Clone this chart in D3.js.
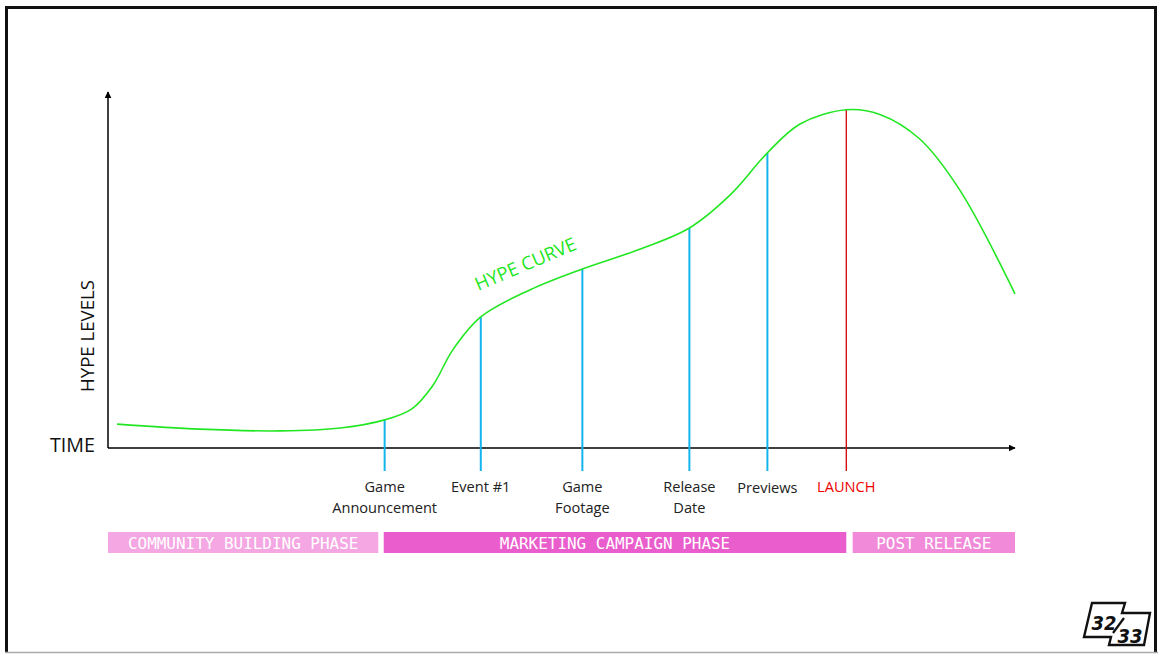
<!DOCTYPE html>
<html>
<head>
<meta charset="utf-8">
<script src="https://cdn.jsdelivr.net/npm/d3@7"></script>
<style>
  html, body { margin: 0; padding: 0; background: #fff; }
  svg { display: block; }
</style>
</head>
<body>
<svg id="chart" width="1158" height="654"></svg>
<script>
// Hype curve: time (0-100) and hype level (0-100)
const curveTimes  = [1.0, 10.1, 19.0, 25.6, 30.5, 33.5, 35.8, 38.0, 41.1, 46.5, 52.3, 58.7, 64.1, 68.6, 72.7, 76.3, 81.4, 85.1, 89.5, 93.9, 100];
const curveLevels = [6.7, 5.3, 4.8, 5.6, 7.9, 11.0, 17.5, 27.5, 36.8, 44.4, 50.3, 55.9, 61.8, 71.1, 82.9, 91.0, 95.0, 93.7, 86.8, 72.5, 43.3];

// Milestones along the time axis
const eventLabels = [["Game", "Announcement"], ["Event #1"], ["Game", "Footage"], ["Release", "Date"], ["Previews"], ["LAUNCH"]];
const eventTimes  = [30.5, 41.1, 52.3, 64.1, 72.7, 81.4];
const eventKinds  = ["milestone", "milestone", "milestone", "milestone", "milestone", "launch"];

// Campaign phases
const phaseNames  = ["COMMUNITY BUILDING PHASE", "MARKETING CAMPAIGN PHASE", "POST RELEASE"];
const phaseStarts = [0, 30.4, 82.1];
const phaseEnds   = [29.8, 81.4, 100];
const phaseColors = ["#f4a7e3", "#ea5dcd", "#f08ad9"];

const svg = d3.select("#chart");

// Outer frame: dark on three sides, light rule along the bottom
svg.append("path")
  .attr("d", "M6.5,652 L6.5,7.5 L1155.5,7.5 L1155.5,652")
  .attr("fill", "none").attr("stroke", "#111").attr("stroke-width", 3);
svg.append("line").attr("x1", 5).attr("x2", 1158).attr("y1", 652.5).attr("y2", 652.5)
  .attr("stroke", "#aaa").attr("stroke-width", 1.5);

const x = d3.scaleLinear().domain([0, 100]).range([108, 1015]);
const y = d3.scaleLinear().domain([0, 100]).range([448, 92]);

// Arrowheads
const defs = svg.append("defs");
defs.append("marker")
  .attr("id", "arrow").attr("viewBox", "0 0 10 10")
  .attr("refX", 9).attr("refY", 5)
  .attr("markerWidth", 7).attr("markerHeight", 7)
  .attr("markerUnits", "userSpaceOnUse")
  .attr("orient", "auto")
  .append("path").attr("d", "M0,0 L10,5 L0,10 Z").attr("fill", "#000");

// Axes
svg.append("line")
  .attr("x1", x(0)).attr("y1", y(0)).attr("x2", x(0)).attr("y2", y(100))
  .attr("stroke", "#000").attr("stroke-width", 1.5).attr("marker-end", "url(#arrow)");
svg.append("line")
  .attr("x1", x(0)).attr("y1", y(0)).attr("x2", x(100)).attr("y2", y(0))
  .attr("stroke", "#000").attr("stroke-width", 1.5).attr("marker-end", "url(#arrow)");

const labelFont = "'Open Sans', 'Liberation Sans', sans-serif";

svg.append("text")
  .attr("x", 95).attr("y", 452)
  .attr("text-anchor", "end")
  .attr("font-family", labelFont).attr("font-size", 19.5).attr("fill", "#111")
  .attr("textLength", 45).attr("lengthAdjust", "spacingAndGlyphs")
  .text("TIME");

svg.append("text")
  .attr("transform", `translate(94, 336) rotate(-90)`)
  .attr("text-anchor", "middle")
  .attr("font-family", labelFont).attr("font-size", 19).attr("fill", "#111")
  .attr("textLength", 112).attr("lengthAdjust", "spacingAndGlyphs")
  .text("HYPE LEVELS");

// Hype curve
const curvePts = curveTimes.map((t, i) => [t, curveLevels[i]]);
const line = d3.line().x(d => x(d[0])).y(d => y(d[1])).curve(d3.curveCatmullRom.alpha(0.5));

// Milestone lines, from the curve down below the axis
const levelAt = t => curveLevels[curveTimes.indexOf(t)];
eventTimes.forEach((t, i) => {
  const launch = eventKinds[i] === "launch";
  svg.append("line")
    .attr("x1", x(t)).attr("x2", x(t))
    .attr("y1", y(levelAt(t))).attr("y2", y(0) + 23)
    .attr("stroke", launch ? "#d40000" : "#14b4ee")
    .attr("stroke-width", launch ? 1.3 : 2);
  const lines = eventLabels[i];
  const tx = svg.append("text")
    .attr("text-anchor", "middle")
    .attr("font-family", labelFont).attr("font-size", 14.6)
    .attr("fill", launch ? "#ee0000" : "#222");
  lines.forEach((s, j) => {
    tx.append("tspan")
      .attr("x", x(t))
      .attr("y", y(0) + 44 + j * 21 + (s === "Previews" ? 1 : 0))
      .text(s);
  });
});

svg.append("path")
  .datum(curvePts)
  .attr("d", line)
  .attr("fill", "none")
  .attr("stroke", "#22e622")
  .attr("stroke-width", 1.6);

svg.append("text")
  .attr("transform", "translate(528, 270) rotate(-23)")
  .attr("text-anchor", "middle")
  .attr("font-family", labelFont).attr("font-size", 18.5).attr("fill", "#22e622")
  .text("HYPE CURVE");

// Phase bands
phaseNames.forEach((name, i) => {
  svg.append("rect")
    .attr("x", x(phaseStarts[i])).attr("y", 532)
    .attr("width", x(phaseEnds[i]) - x(phaseStarts[i])).attr("height", 21)
    .attr("fill", phaseColors[i]);
  svg.append("text")
    .attr("x", (x(phaseStarts[i]) + x(phaseEnds[i])) / 2).attr("y", 548.5)
    .attr("text-anchor", "middle")
    .attr("font-family", "'DejaVu Sans Mono', 'Liberation Mono', monospace")
    .attr("font-size", 15.5).attr("fill", "#fff")
    .attr("textLength", name.length * 9.6).attr("lengthAdjust", "spacingAndGlyphs")
    .text(name);
});

// Badge in the corner
const badge = svg.append("g");
badge.append("path")
  .attr("d", "M1092,603 L1125,603 L1122,613 L1150,613 L1144,645 L1109,645 L1111,637 L1084,637 Z")
  .attr("fill", "#fff").attr("stroke", "#111").attr("stroke-width", 2.4).attr("stroke-linejoin", "miter");
badge.append("text")
  .attr("x", 1104).attr("y", 630)
  .attr("text-anchor", "middle")
  .attr("font-family", "'DejaVu Sans', sans-serif").attr("font-weight", "bold").attr("font-style", "italic")
  .attr("font-size", 20).attr("fill", "#111")
  .attr("textLength", 25).attr("lengthAdjust", "spacingAndGlyphs")
  .text("32");
badge.append("line")
  .attr("x1", 1113).attr("y1", 633).attr("x2", 1124).attr("y2", 618)
  .attr("stroke", "#111").attr("stroke-width", 2.2);
badge.append("text")
  .attr("x", 1130).attr("y", 643)
  .attr("text-anchor", "middle")
  .attr("font-family", "'DejaVu Sans', sans-serif").attr("font-weight", "bold").attr("font-style", "italic")
  .attr("font-size", 20).attr("fill", "#111")
  .attr("textLength", 25).attr("lengthAdjust", "spacingAndGlyphs")
  .text("33");
</script>
</body>
</html>
